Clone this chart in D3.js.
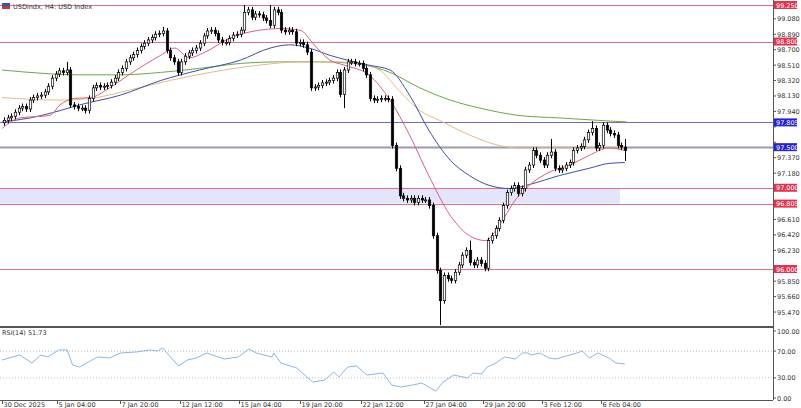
<!DOCTYPE html>
<html>
<head>
<meta charset="utf-8">
<script src="https://cdn.jsdelivr.net/npm/d3@7"></script>
<style>
  body { margin: 0; background: #fff; }
  text { font-family: "DejaVu Sans", sans-serif; }
</style>
</head>
<body>
<svg id="chart" width="801" height="408"></svg>
<script>
// closing prices per 4H bar (open = previous close)
var closes = [
  97.83,97.86,97.88,97.93,97.98,98.00,97.97,98.08,98.11,98.13,98.14,98.18,98.25,98.35,98.40,98.44,98.42,98.45,
  98.02,98.00,97.98,97.98,97.95,98.10,
  98.23,98.26,98.24,98.25,98.26,98.30,98.35,
  98.42,98.47,98.55,98.60,98.64,98.69,98.74,98.78,98.82,98.85,98.89,98.90,98.93,
  98.69,98.60,98.55,98.42,98.55,98.62,
  98.66,98.69,98.72,98.78,98.87,98.93,98.94,
  98.90,98.82,98.79,98.79,98.84,98.88,98.89,98.94,99.16,99.19,
  99.10,99.14,99.13,99.09,99.06,99.00,99.19,99.16,
  98.94,98.92,98.94,98.92,98.78,98.79,98.76,98.67,
  98.23,
  98.24,98.26,98.29,98.30,98.32,98.35,98.42,98.15,98.45,
  98.55,98.55,98.53,98.53,98.47,98.39,98.10,
  98.08,98.09,98.10,98.10,98.09,
  97.52,97.24,96.90,96.87,
  96.85,96.87,96.82,96.87,96.85,96.85,96.78,
  96.41,95.98,95.61,
  95.92,95.88,95.86,95.96,96.05,96.17,96.23,96.08,96.05,96.11,96.07,96.01,96.35,96.41,96.50,96.60,
  96.78,96.94,96.99,97.03,96.93,96.99,97.22,97.28,97.46,97.40,97.34,97.28,97.40,97.44,97.24,97.22,97.24,97.28,97.31,
  97.46,97.49,97.51,97.59,97.68,97.73,97.49,97.52,97.77,97.71,97.67,97.65,97.52,97.50,97.46
];
var firstOpen = 97.80;
// notable long wicks: [bar, high, low]
var longWicks = [[17,98.55,null],[43,98.98,null],[65,99.25,null],[72,99.25,null],[92,null,97.98],[118,null,95.31],[126,96.35,null],[148,97.60,null],[159,97.82,null],[168,97.60,97.33]];

// moving averages, knots [bar, price]
var maRed = [[0,97.73],[4.8,97.86],[12.9,97.89],[15.7,98.02],[19.6,98.10],[23.9,98.11],[29.1,98.23],[34.3,98.39],[42.9,98.63],[46.7,98.72],[50.6,98.60],[54.9,98.67],[61.5,98.84],[69.6,98.94],[75.4,98.96],[80.6,98.94],[84.4,98.76],[88.7,98.57],[92.5,98.51],[99.2,98.39],[104.9,98.08],[110.2,97.65],[115.4,97.15],[121.2,96.66],[126.4,96.41],[130.7,96.35],[134.5,96.54],[138.8,96.85],[142.6,97.03],[147.9,97.19],[153.6,97.28],[158.8,97.40],[164.1,97.49],[168.4,97.46]];
var maBlue = [[0,97.81],[7.6,97.86],[15.7,97.95],[21,98.02],[32,98.14],[42.9,98.32],[53.4,98.45],[64.4,98.57],[72.5,98.72],[77.8,98.76],[83,98.72],[88.7,98.63],[99.2,98.51],[104.9,98.45],[110.2,98.14],[115.4,97.71],[121.2,97.34],[126.4,97.15],[131.7,97.03],[137.4,96.99],[142.6,97.04],[150.7,97.15],[158.8,97.24],[164.1,97.30],[168.4,97.31]];
var maTan = [[0,98.11],[15.7,98.08],[23.9,98.10],[34.3,98.20],[45.3,98.32],[56.3,98.42],[69.6,98.51],[80.6,98.55],[91.6,98.55],[96.8,98.52],[102.1,98.45],[107.3,98.20],[113,97.95],[118.3,97.83],[126.4,97.65],[134.5,97.52],[139.8,97.49],[150.7,97.49],[161.2,97.49],[168.4,97.49]];
var maGreen = [[0,98.45],[10.5,98.41],[21,98.39],[32,98.39],[42.9,98.42],[53.4,98.47],[64.4,98.53],[75.4,98.55],[85.9,98.55],[96.8,98.52],[104.9,98.42],[113,98.23],[121.2,98.08],[129.3,97.98],[139.8,97.89],[150.7,97.86],[161.2,97.83],[168.9,97.81]];

// RSI(14) knots [bar, value]
var rsi = [[0,56.7],[4.8,64.2],[8.1,52.3],[10.5,64.2],[12.4,61.2],[15.3,71.7],[17.6,71.7],[19.1,49.3],[21,46.3],[25.8,61.2],[29.1,59.7],[32,67.2],[36.3,68.7],[40.1,71.7],[42,70.2],[43.4,74.6],[47.7,47.8],[50.1,56.7],[52.5,59.7],[55.3,67.2],[60.1,58.2],[63.9,61.2],[66.8,73.2],[68.7,67.2],[73,61.2],[73.5,67.2],[75.4,52.3],[79.7,44.8],[84,23.9],[87.3,26.9],[89.7,38.8],[91.1,31.4],[93.5,46.3],[95.9,47.8],[98.7,34.3],[103,37.3],[105.4,19.4],[107.8,16.4],[111.1,19.4],[113.5,22.4],[117.3,10.4],[119.3,23.9],[122.1,34.3],[125.9,29.9],[127.4,37.3],[129.7,35.8],[131.2,46.3],[133.6,52.3],[135.9,61.2],[138.8,58.2],[140.7,67.2],[142.1,67.2],[143.1,64.2],[145.5,67.2],[147.9,59.7],[149.8,58.2],[151.7,61.2],[153.6,64.2],[155.5,67.2],[156.9,70.2],[158.8,59.7],[161.2,67.2],[164.1,59.7],[166,52.3],[168.4,50.8]];
var rsiLast = 51.73;

var priceTicks = [99.08,98.89,98.70,98.51,98.32,98.13,97.94,97.75,97.56,97.37,97.18,96.99,96.61,96.42,96.23,95.85,95.66,95.47];
var levels = [
  { v: 99.250, kind: "red" }, { v: 98.800, kind: "red" },
  { v: 97.805, kind: "blue" }, { v: 97.500, kind: "blue" },
  { v: 97.000, kind: "red" }, { v: 96.805, kind: "red" }, { v: 96.000, kind: "red" }
];
var zone = [96.805, 97.000];
var timeLabels = ["30 Dec 2025","5 Jan 04:00","7 Jan 20:00","12 Jan 12:00","15 Jan 04:00","19 Jan 20:00","22 Jan 12:00","27 Jan 04:00","29 Jan 20:00","3 Feb 12:00","6 Feb 04:00"];
var timeBars = [0,15,32,48,64,80.5,97,114,130,146,162];

var svg = d3.select("#chart");
var right = 773;

var x = d3.scaleLinear().domain([0, closes.length]).range([2, 627]);
var y = d3.scaleLinear().domain([96.0, 99.25]).range([269, 5]);
var yr = d3.scaleLinear().domain([0, 100]).range([398, 331]);

// support zone
svg.append("rect")
  .attr("x", 0).attr("width", 620)
  .attr("y", y(zone[1])).attr("height", y(zone[0]) - y(zone[1]))
  .attr("fill", "#e4e4fa");

// horizontal levels
levels.forEach(function (l) {
  svg.append("line")
    .attr("x1", 0).attr("x2", right)
    .attr("y1", Math.round(y(l.v)) + 0.5).attr("y2", Math.round(y(l.v)) + 0.5)
    .attr("stroke", l.kind == "red" ? "#d9738a" : (l.v == 97.5 ? "#9a9ab4" : "#6e6eb4"))
    .attr("stroke-width", l.v == 97.5 ? 2 : 1);
});

// moving averages
var line = d3.line().x(d => x(d[0])).y(d => y(d[1])).curve(d3.curveMonotoneX);
[[maGreen, "#6aa84f"], [maTan, "#e8b98a"], [maBlue, "#3d4fa8"], [maRed, "#e0607a"]].forEach(function (m) {
  svg.append("path").attr("d", line(m[0])).attr("fill", "none").attr("stroke", m[1]).attr("stroke-width", 1);
});

// candles
var wickMap = {};
longWicks.forEach(w => wickMap[w[0]] = w);
var bw = 2.4;
closes.forEach(function (c, i) {
  var o = i == 0 ? firstOpen : closes[i - 1];
  var hi = Math.max(o, c), lo = Math.min(o, c);
  var cx = Math.round(x(i + 0.5)) + 0.5;
  var yTop = y(hi) - 3, yBot = y(lo) + 3;
  var w = wickMap[i];
  if (w && w[1] != null) yTop = y(w[1]);
  if (w && w[2] != null) yBot = y(w[2]);
  svg.append("line").attr("x1", cx).attr("x2", cx).attr("y1", yTop).attr("y2", yBot).attr("stroke", "#000").attr("stroke-width", 1);
  var h = Math.max(1, y(lo) - y(hi));
  svg.append("rect")
    .attr("x", cx - bw / 2).attr("width", bw)
    .attr("y", y(hi)).attr("height", h)
    .attr("fill", c >= o ? "#fff" : "#000")
    .attr("stroke", "#000").attr("stroke-width", 0.7);
});

// axes frame
svg.append("line").attr("x1", right + 0.5).attr("x2", right + 0.5).attr("y1", 0).attr("y2", 400).attr("stroke", "#555");
svg.append("line").attr("x1", 0).attr("x2", right).attr("y1", 327).attr("y2", 327).attr("stroke", "#555").attr("stroke-width", 2);
svg.append("line").attr("x1", 0).attr("x2", right).attr("y1", 400.5).attr("y2", 400.5).attr("stroke", "#555");

// price ticks (skip the ones hidden under a level badge)
priceTicks.forEach(function (t) {
  var ty = y(t);
  svg.append("line").attr("x1", right).attr("x2", right + 3).attr("y1", ty).attr("y2", ty).attr("stroke", "#555");
  if (levels.some(l => Math.abs(y(l.v) - ty) < 7)) return;
  svg.append("text").attr("x", right + 4).attr("y", ty + 2.5).attr("font-size", 6.5).attr("fill", "#333").text(t.toFixed(3));
});

// level badges
levels.forEach(function (l) {
  var ty = y(l.v);
  svg.append("rect").attr("x", right + 1).attr("y", ty - 4).attr("width", 23).attr("height", 8)
    .attr("fill", l.kind == "red" ? "#e0354f" : "#2424d0");
  svg.append("text").attr("x", right + 3).attr("y", ty + 2.5).attr("font-size", 6.5).attr("fill", "#fff").text(l.v.toFixed(3));
});

// RSI panel
[70, 30].forEach(function (v) {
  svg.append("line").attr("x1", 0).attr("x2", right).attr("y1", yr(v)).attr("y2", yr(v))
    .attr("stroke", "#bbb").attr("stroke-dasharray", "1,2");
});
[100, 70, 30, 0].forEach(function (v) {
  svg.append("line").attr("x1", right).attr("x2", right + 3).attr("y1", yr(v)).attr("y2", yr(v)).attr("stroke", "#555");
  svg.append("text").attr("x", right + 4).attr("y", yr(v) + 2.5).attr("font-size", 6.5).attr("fill", "#333").text(v.toFixed(2));
});
svg.append("path")
  .attr("d", d3.line().x(d => x(d[0])).y(d => yr(d[1]))(rsi))
  .attr("fill", "none").attr("stroke", "#8ab8e0").attr("stroke-width", 1);
svg.append("text").attr("x", 2).attr("y", 335).attr("font-size", 6.5).attr("fill", "#333").text("RSI(14) " + rsiLast);

// time axis
timeBars.forEach(function (b, i) {
  var tx = Math.round(x(b)) + 0.5;
  svg.append("line").attr("x1", tx).attr("x2", tx).attr("y1", 400).attr("y2", 404).attr("stroke", "#555");
  svg.append("text").attr("x", tx + 1).attr("y", 407).attr("font-size", 6.5).attr("fill", "#333").text(timeLabels[i]);
});

// title with flag icon
svg.append("rect").attr("x", 2).attr("y", 3).attr("width", 8).attr("height", 6).attr("fill", "#3355aa");
svg.append("rect").attr("x", 2).attr("y", 6).attr("width", 8).attr("height", 3).attr("fill", "#d03040");
svg.append("text").attr("x", 13).attr("y", 9).attr("font-size", 6.5).attr("fill", "#333").text("USDindx, H4:  USD Index");
</script>
</body>
</html>
